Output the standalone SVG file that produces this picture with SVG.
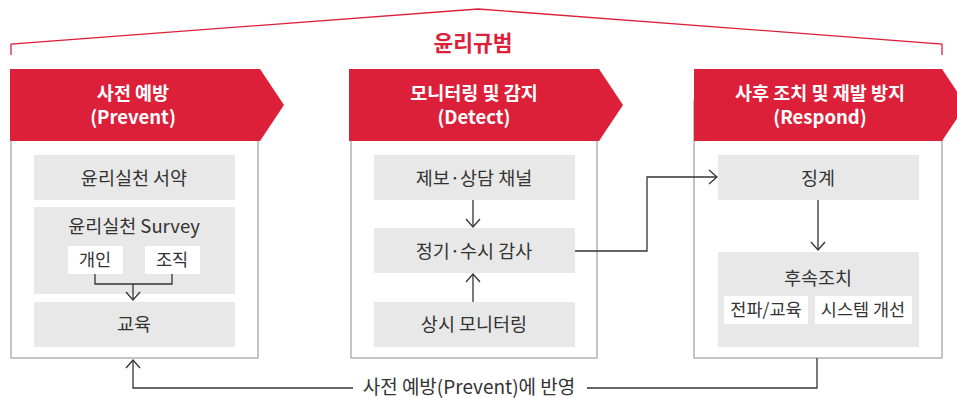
<svg xmlns="http://www.w3.org/2000/svg" width="957" height="398" viewBox="0 0 957 398">
<defs>
<style>
text{font-family:"Noto Sans CJK KR","Noto Sans",sans-serif;text-anchor:middle}
.hd{fill:#DD2039}
.hdt{fill:#fff;font-size:18.5px;font-weight:bold}
.panel{fill:#fff;stroke:#A6A6A6;stroke-width:1.3}
.item{fill:#E8E8E8}
.sub{fill:#fff}
.it{fill:#333;font-size:18.5px}
.st{fill:#333;font-size:17.5px}
.ln{fill:none;stroke:#333;stroke-width:1.3}
</style>
<marker id="ar" viewBox="0 0 16 16" refX="14" refY="8" markerWidth="16" markerHeight="16" markerUnits="userSpaceOnUse" orient="auto">
<path d="M6,1 L14,8 L6,15" fill="none" stroke="#333" stroke-width="1.3"/>
</marker>
</defs>
<rect width="957" height="398" fill="#fff"/>
<g id="bracket">
<path d="M11,55 V44 L478,9 L942,44 V55" fill="none" stroke="#DD2039" stroke-width="1.3"/>
<text x="473" y="51" style="fill:#DD2039;font-size:21.5px;font-weight:bold">윤리규범</text>
</g>
<g id="prevent">
<rect class="panel" x="11" y="100" width="247" height="258"/>
<path class="hd" d="M10,69 H260 L284,105 L260,141 H10 Z"/>
<text class="hdt" x="133" y="100">사전 예방</text>
<text class="hdt" x="133" y="124">(Prevent)</text>
<g id="p1"><rect class="item" x="34" y="155" width="201" height="45"/><text class="it" x="134" y="185">윤리실천 서약</text></g>
<g id="p2"><rect class="item" x="34" y="207" width="201" height="87"/><text class="it" x="134" y="233">윤리실천 Survey</text>
<g id="p2a"><rect class="sub" x="68" y="246" width="55" height="28"/><text class="st" x="95" y="266">개인</text></g>
<g id="p2b"><rect class="sub" x="145" y="246" width="55" height="28"/><text class="st" x="172" y="266">조직</text></g>
</g>
<g id="p3"><rect class="item" x="34" y="302" width="201" height="45"/><text class="it" x="134" y="331">교육</text></g>
</g>
<g id="detect">
<rect class="panel" x="351" y="100" width="246" height="258"/>
<path class="hd" d="M349,69 H599 L623,105 L599,141 H349 Z"/>
<text class="hdt" x="474" y="100">모니터링 및 감지</text>
<text class="hdt" x="474" y="124">(Detect)</text>
<g id="d1"><rect class="item" x="374" y="155" width="201" height="45"/><text class="it" x="474" y="185">제보·상담 채널</text></g>
<g id="d2"><rect class="item" x="374" y="228" width="201" height="45"/><text class="it" x="474" y="258">정기·수시 감사</text></g>
<g id="d3"><rect class="item" x="374" y="302" width="201" height="45"/><text class="it" x="474" y="331">상시 모니터링</text></g>
</g>
<g id="respond">
<rect class="panel" x="694" y="100" width="248" height="258"/>
<path class="hd" d="M694,69 H942 L966,105 L942,141 H694 Z"/>
<text class="hdt" x="820" y="100">사후 조치 및 재발 방지</text>
<text class="hdt" x="820" y="124">(Respond)</text>
<g id="r1"><rect class="item" x="718" y="155" width="201" height="45"/><text class="it" x="818" y="185">징계</text></g>
<g id="r2"><rect class="item" x="718" y="252" width="201" height="95"/><text class="it" x="818" y="285">후속조치</text>
<g id="r2a"><rect class="sub" x="724" y="296" width="84" height="28"/><text class="st" x="766" y="316">전파/교육</text></g>
<g id="r2b"><rect class="sub" x="815" y="296" width="97" height="28"/><text class="st" x="863" y="316">시스템 개선</text></g>
</g>
</g>
<g id="connectors">
<path class="ln" d="M95,274 V284 H172 V274"/>
<path class="ln" d="M133,284 V300" marker-end="url(#ar)"/>
<path class="ln" d="M473,200 V227" marker-end="url(#ar)"/>
<path class="ln" d="M473,302 V274" marker-end="url(#ar)"/>
<path class="ln" d="M575,251 H647 V177 H717" marker-end="url(#ar)"/>
<path class="ln" d="M818,200 V250" marker-end="url(#ar)"/>
<path class="ln" d="M817,358 V388 H587"/>
<path class="ln" d="M353,388 H133 V360" marker-end="url(#ar)"/>
<text x="469" y="394" style="fill:#333;font-size:19px">사전 예방(Prevent)에 반영</text>
</g>
</svg>
